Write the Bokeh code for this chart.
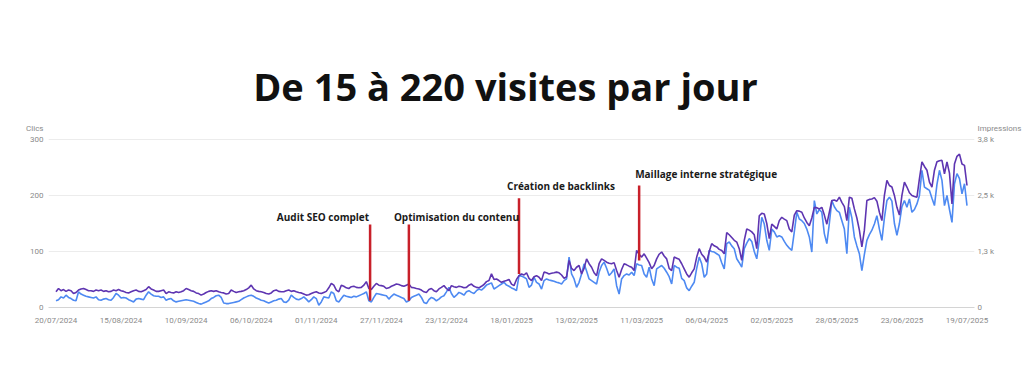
import pandas as pd
from bokeh.plotting import figure
from bokeh.models import (Range1d, LinearAxis, FixedTicker, DatetimeTickFormatter,
                          CustomJSTickFormatter)
from bokeh.core.properties import value
from bokeh.embed import file_html
from bokeh.resources import INLINE

# ---------------- data ----------------
title_text = "De 15 à 220 visites par jour"
start_date = "2024-07-20"

clicks = [
    12, 14, 19, 17, 22, 18, 16,
    13, 12, 28, 24, 22, 20, 19,
    18, 17, 19, 14, 13, 15, 16,
    14, 13, 18, 25, 22, 17, 18,
    17, 14, 12, 10, 15, 16, 15,
    14, 22, 28, 24, 21, 20, 20,
    18, 19, 13, 15, 16, 12, 10,
    11, 12, 13, 14, 13, 12, 11,
    9, 7, 6, 8, 10, 12, 16,
    18, 21, 22, 18, 8, 7, 7,
    8, 9, 10, 11, 14, 17, 19,
    21, 22, 20, 17, 15, 13, 12,
    10, 8, 10, 12, 13, 15, 16,
    10, 9, 13, 22, 18, 15, 14,
    16, 19, 15, 10, 14, 19, 16,
    4, 10, 19, 18, 17, 28, 25,
    12, 10, 16, 22, 20, 19, 18,
    20, 19, 21, 23, 25, 28, 12,
    10, 18, 25, 24, 23, 22, 21,
    15, 20, 24, 22, 20, 18, 16,
    10, 12, 18, 20, 22, 24, 18,
    9, 7, 14, 18, 16, 12, 15,
    19, 21, 28, 36, 25, 18, 22,
    27, 25, 22, 28, 30, 27, 25,
    30, 33, 31, 35, 40, 42, 44,
    33, 36, 39, 42, 45, 40, 38,
    35, 33, 30, 57, 56, 54, 51,
    36, 40, 54, 45, 42, 33, 48,
    51, 49, 48, 47, 45, 44, 42,
    48, 51, 90, 60, 51, 36, 45,
    60, 78, 65, 51, 48, 45, 42,
    63, 75, 81, 70, 57, 62, 69,
    39, 24, 51, 57, 60, 58, 63,
    57, 78, 76, 75, 60, 54, 72,
    51, 39, 69, 72, 75, 70, 63,
    55, 42, 75, 72, 70, 52, 48,
    35, 30, 38, 45, 70, 90, 78,
    54, 60, 102, 100, 99, 96, 93,
    80, 69, 114, 117, 110, 105, 87,
    80, 72, 105, 115, 123, 118, 100,
    87, 120, 161, 149, 120, 102, 140,
    135, 126, 128, 126, 118, 111, 106,
    102, 135, 170, 158, 155, 150, 140,
    126, 99, 191, 167, 175, 170, 132,
    114, 150, 191, 180, 173, 170, 155,
    140, 96, 179, 160, 126, 110, 96,
    66, 95, 120, 130, 138, 149, 164,
    140, 120, 160, 191, 197, 190, 150,
    129, 150, 180, 191, 179, 194, 170,
    175, 185, 200, 245, 215, 212, 209,
    195, 182, 220, 245, 227, 182, 200,
    175, 152, 221, 239, 230, 203, 221,
    182,
]

impressions = [
    355, 430, 380, 405, 365, 395, 380,
    315, 340, 395, 420, 430, 405, 380,
    380, 365, 395, 380, 395, 365, 380,
    355, 365, 395, 380, 405, 380, 365,
    340, 330, 355, 380, 395, 365, 355,
    380, 405, 470, 420, 395, 365, 365,
    380, 395, 315, 355, 340, 330, 355,
    340, 355, 380, 430, 405, 380, 365,
    330, 315, 280, 305, 340, 365, 380,
    365, 380, 355, 340, 330, 305, 315,
    395, 365, 340, 355, 365, 380, 405,
    445, 505, 420, 380, 365, 355, 340,
    315, 305, 330, 380, 395, 365, 355,
    355, 380, 395, 365, 380, 355, 340,
    330, 305, 280, 290, 315, 340, 355,
    330, 315, 340, 365, 445, 545, 505,
    395, 355, 505, 480, 445, 430, 470,
    480, 455, 445, 455, 505, 585, 430,
    405, 480, 545, 505, 495, 480, 430,
    445, 480, 505, 530, 520, 495, 480,
    505, 530, 455, 445, 430, 420, 395,
    355, 340, 405, 430, 380, 355, 420,
    455, 495, 430, 380, 495, 470, 455,
    480, 470, 445, 455, 505, 530, 480,
    455, 445, 480, 520, 585, 610, 760,
    635, 645, 610, 570, 595, 610, 635,
    530, 495, 635, 720, 760, 735, 785,
    660, 610, 695, 720, 685, 610, 800,
    785, 760, 775, 785, 800, 785, 735,
    660, 695, 1065, 885, 835, 910, 950,
    760, 885, 1100, 990, 910, 785, 720,
    990, 1100, 1065, 1025, 1000, 990, 1015,
    835, 685, 860, 990, 965, 935, 910,
    835, 1290, 1205, 1140, 1215, 1115, 1015,
    875, 950, 1100, 1205, 1255, 1165, 1100,
    885, 835, 1140, 1115, 1090, 990, 875,
    760, 685, 785, 875, 1140, 1330, 1205,
    1140, 1025, 1265, 1445, 1395, 1370, 1315,
    1290, 1215, 1695, 1645, 1585, 1520, 1480,
    1330, 1065, 1520, 1775, 1750, 1710, 1645,
    1330, 2075, 2130, 2115, 1900, 1560, 1885,
    1835, 1775, 1965, 2040, 2000, 1965, 1775,
    1710, 2090, 2190, 2180, 2155, 2025, 1925,
    1850, 2025, 2265, 2255, 2230, 2265, 2090,
    1885, 2155, 2420, 2430, 2405, 2495, 2380,
    2280, 1965, 2495, 2470, 2230, 2025, 1750,
    1370, 1750, 2420, 2445, 2455, 2485, 2405,
    2155, 1965, 2535, 2875, 2760, 2725, 2535,
    2265, 2090, 2535, 2835, 2725, 2595, 2535,
    2510, 2495, 2915, 3295, 3190, 3105, 2835,
    2725, 3105, 3295, 3320, 3330, 3025, 3295,
    3040, 2345, 3245, 3420, 3470, 3245, 3215,
    2760,
]

x_tick_labels = ["20/07/2024", "15/08/2024", "10/09/2024", "06/10/2024", "01/11/2024",
                 "27/11/2024", "23/12/2024", "18/01/2025", "13/02/2025", "11/03/2025",
                 "06/04/2025", "02/05/2025", "28/05/2025", "23/06/2025", "19/07/2025"]
clicks_ticks = [0, 100, 200, 300]
clicks_max = 300
impr_max = 3800
impr_ticks = [0, 1266.6667, 2533.3333, 3800]
clicks_label = "Clics"
impr_label = "Impressions"

event_labels = ["Audit SEO complet", "Optimisation du contenu",
                "Création de backlinks", "Maillage interne stratégique"]
event_dates = ["2024-11-22 12:00", "2024-12-08 00:00", "2025-01-21 00:00", "2025-03-10 00:00"]
event_top = [148, 148, 195, 218]
event_bottom = [12, 12, 60, 84]

if len(clicks) != len(impressions):
    raise SystemExit(f"length mismatch {len(clicks)} {len(impressions)}")

# ---------------- styling / layout ----------------
dates = pd.date_range(start_date, periods=len(clicks), freq="D")
x_start = dates[0] - pd.Timedelta(days=3)
x_end = dates[-1] + pd.Timedelta(days=3)

GRAY = "#8a8a8a"
BLUE = "#4e8af2"
PURPLE = "#5e35b1"
RED = "#c8202a"

# page geometry (pixels)
W, H = 1024, 357
FRAME_L, FRAME_R, FRAME_T, FRAME_B = 48, 975, 50, 307
PLOT_TOP = 139          # pixel row of the top gridline (clicks_max)
NAME_ROW = 128          # pixel row of the axis names
TITLE_ROW = 85          # pixel row used to anchor the title

scale = (FRAME_B - FRAME_T) / (FRAME_B - PLOT_TOP)
y_max = clicks_max * scale
imp_top = impr_max * scale
name_frac = (FRAME_B - NAME_ROW) / (FRAME_B - PLOT_TOP)
title_frac = (FRAME_B - TITLE_ROW) / (FRAME_B - PLOT_TOP)

p = figure(width=W, height=H, output_backend="svg", toolbar_location=None,
           x_axis_type="datetime", x_range=Range1d(x_start, x_end),
           y_range=Range1d(0, y_max),
           min_border_left=FRAME_L, min_border_right=W - FRAME_R, min_border_top=FRAME_T,
           min_border_bottom=H - FRAME_B)
p.outline_line_color = None
p.background_fill_color = "white"
p.border_fill_color = "white"
p.xgrid.visible = False
p.ygrid.grid_line_color = "#ececec"
p.ygrid.grid_line_width = 1

tick_ms = [pd.to_datetime(t, format="%d/%m/%Y").value // 10**6 for t in x_tick_labels]
p.xaxis.ticker = FixedTicker(ticks=tick_ms)
fmt = "%d/%m/%Y"
p.xaxis.formatter = DatetimeTickFormatter(milliseconds=fmt, seconds=fmt, minsec=fmt, minutes=fmt,
                                          hourmin=fmt, hours=fmt, days=fmt, months=fmt, years=fmt)

# left axis: clicks ticks + axis name as top label
clicks_name_pos = clicks_max * name_frac
p.yaxis.ticker = FixedTicker(ticks=clicks_ticks + [clicks_name_pos])
p.yaxis.formatter = CustomJSTickFormatter(args=dict(lab=clicks_label, top=clicks_max),
                                          code="return tick > top ? lab : tick.toFixed(0);")
p.ygrid.ticker = FixedTicker(ticks=clicks_ticks)

# right axis: impressions
impr_name_pos = impr_max * name_frac
p.extra_y_ranges = {"imp": Range1d(0, imp_top)}
raxis = LinearAxis(y_range_name="imp", ticker=FixedTicker(ticks=impr_ticks + [impr_name_pos]),
                   formatter=CustomJSTickFormatter(
                       args=dict(lab=impr_label, top=impr_max + 1),
                       code='if (tick > top) return lab;'
                            'return tick == 0 ? "0" : (tick/1000).toFixed(1).replace(".", ",") + " k";'))
p.add_layout(raxis, "right")

for ax in (p.xaxis[0], p.yaxis[0], raxis):
    ax.major_tick_line_color = None
    ax.minor_tick_line_color = None
    ax.major_tick_out = 0
    ax.major_tick_in = 0
    ax.major_label_text_color = GRAY
    ax.major_label_text_font = "Roboto"
    ax.major_label_text_font_size = "8px"
p.xaxis.axis_line_color = "#d4d4d4"
p.yaxis[0].axis_line_color = None
raxis.axis_line_color = None
p.xaxis.major_label_standoff = 8
p.yaxis[0].major_label_standoff = 5
raxis.major_label_standoff = 3

# series
p.line(dates, clicks, line_color=BLUE, line_width=1.6)
p.line(dates, impressions, y_range_name="imp", line_color=PURPLE, line_width=1.6)

# events
ev_dates = pd.to_datetime(event_dates, format="%Y-%m-%d %H:%M")
p.segment(x0=ev_dates, y0=event_bottom, x1=ev_dates, y1=event_top,
          line_color=RED, line_width=2.5)
label_align = ["right", "left", "left", "left"]
label_dx = [-1, -15, -12, -4]
label_dy = [-8, -8, -12, -11]
for i, txt in enumerate(event_labels):
    p.text(x=[ev_dates[i]], y=[event_top[i]], text=[txt], text_align=label_align[i],
           text_baseline="middle", x_offset=label_dx[i], y_offset=label_dy[i],
           text_font=value("Open Sans"), text_font_style="bold",
           text_font_size="10px", text_color="#1a1a1a")

# title, drawn inside the (extended) frame
x_mid = x_start + (x_end - x_start) / 2
p.text(x=[x_mid], y=[clicks_max * title_frac], text=[title_text], text_align="center",
       text_baseline="alphabetic", x_offset=-6,
       text_font=value("Open Sans"), text_font_style="bold", text_font_size="38px",
       text_color="#111111")

open("out.html", "w").write(file_html(p, INLINE))
